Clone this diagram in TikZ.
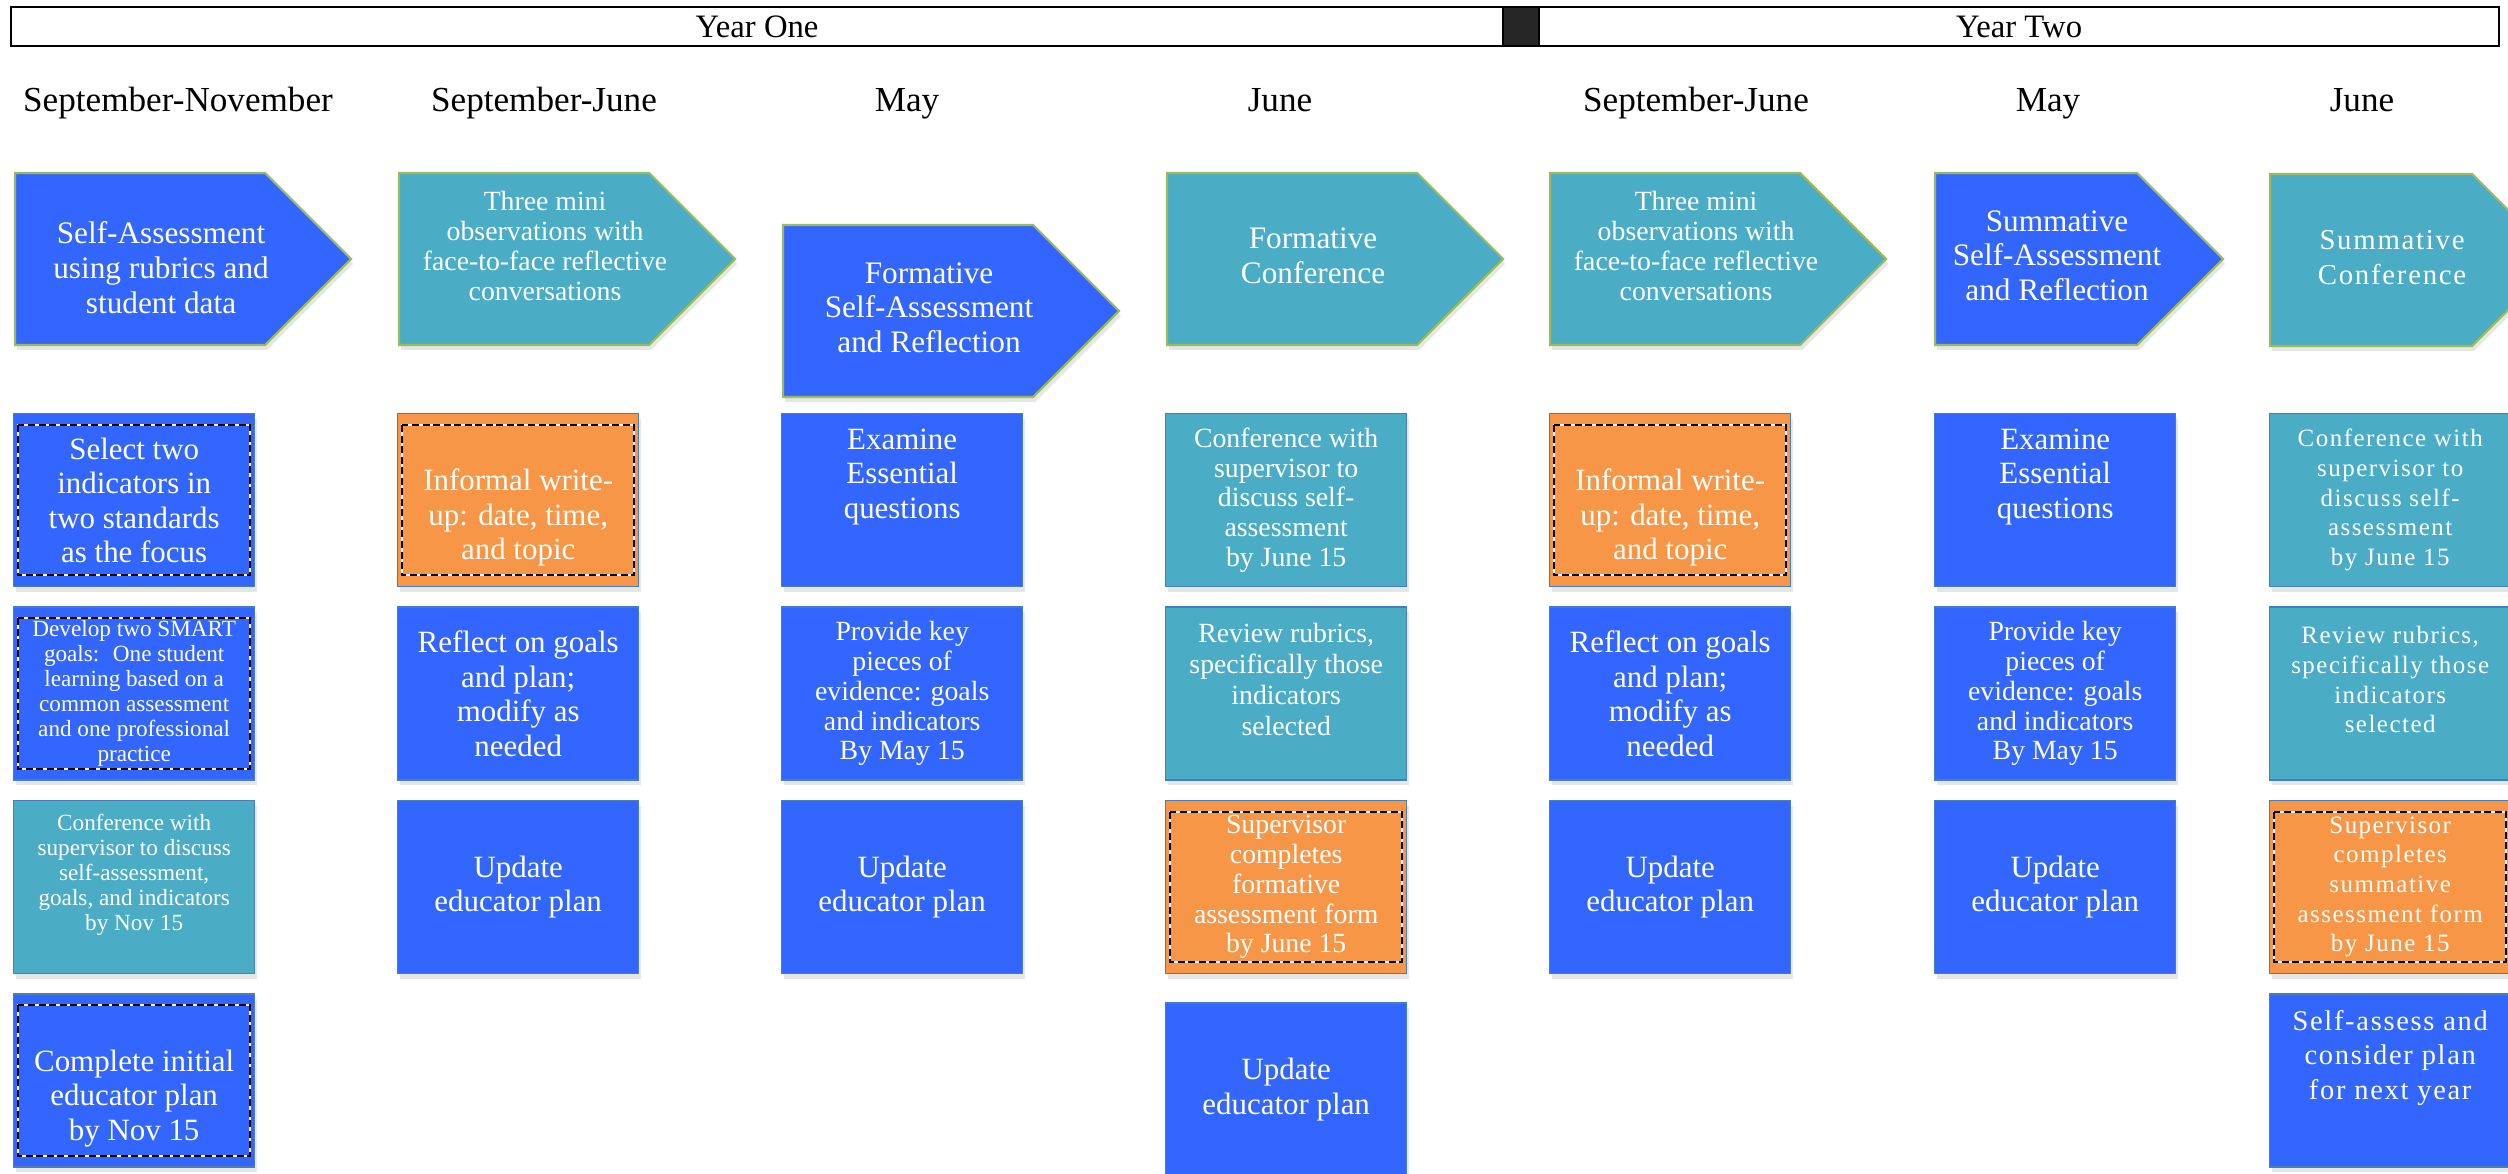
\documentclass[tikz,border=0pt]{standalone}
\usepackage{fontspec}
\setmainfont{Liberation Serif}
\newfontfamily\widefont[LetterSpace=6]{Liberation Serif}
\usepackage{xcolor}
\usetikzlibrary{positioning, shapes.symbols, shadows}

\definecolor{cardblue}{HTML}{3366FF}
\definecolor{cardteal}{HTML}{4BACC6}
\definecolor{cardorange}{HTML}{F79646}
\definecolor{cardedge}{HTML}{4A7EBB}
\definecolor{arrowedge}{HTML}{9BBB59}
\definecolor{gapgray}{HTML}{262626}

% text of a stage arrow, centred a little right of the body, no width of its own
\newcommand{\stagelines}[1]{\hspace*{2.1mm}\makebox[0pt]{\begin{tabular}{@{}c@{}}#1\end{tabular}}\hspace*{-2.1mm}}

\begin{document}
\begin{tikzpicture}[
            x=0.1mm, y=-0.1mm,
            % --- Styles for the cards ---
            card/.style={
                draw=cardedge, line width=0.4pt, rectangle, anchor=north west,
                minimum width=24.1mm, minimum height=17.3mm, inner sep=1pt,
                text=white, align=center, font=\fontsize{8.8}{9.8}\selectfont,
                drop shadow={shadow xshift=0.2mm, shadow yshift=-0.5mm, opacity=0.2}
            },
            blue_card/.style={card, fill=cardblue},
            teal_card/.style={card, fill=cardteal},
            orange_card/.style={card, fill=cardorange},
            small_text/.style={font=\fontsize{7.9}{8.5}\selectfont},
            tiny_text/.style={font=\fontsize{6.6}{7.1}\selectfont},
            wide_text/.style={font=\widefont\fontsize{7.1}{8.45}\selectfont},
            % --- Styles for the stage arrows ---
            stage/.style={
                signal, signal to=east, signal pointer angle=90,
                draw=arrowedge, line width=0.6pt, anchor=west,
                minimum width=33.6mm, minimum height=17.2mm, inner sep=1pt,
                text=white, font=\fontsize{8.9}{9.9}\selectfont,
                drop shadow={shadow xshift=0.2mm, shadow yshift=-0.5mm, opacity=0.2}
            },
            blue_stage/.style={stage, fill=cardblue},
            teal_stage/.style={stage, fill=cardteal},
            % --- Styles for the headings ---
            month/.style={anchor=base, font=\fontsize{10}{12}\selectfont},
            year_box/.style={
                draw, line width=0.6pt, anchor=north west, minimum height=3.9mm,
                inner sep=0pt, font=\fontsize{9.3}{11}\selectfont
            },
            dash_frame/.style={line width=0.6pt, dash pattern=on 2pt off 1pt}
        ]

        \useasboundingbox (0,0) rectangle (2508,1174);

        % --- Year bar ---
        \node[year_box, minimum width=149.2mm] (year1) at (10,6) {Year One};
        \node[year_box, fill=gapgray, minimum width=3.6mm] (yeargap) at (1502,6) {};
        \node[year_box, minimum width=96mm] (year2) at (1538,6) {Year Two};

        % --- Month headings ---
        \foreach \mx/\mname [count=\i from 1] in {178/September-November, 544/September-June,
                907/May, 1280/June, 1696/September-June, 2048/May, 2362/June} {
            \node[month] (month\i) at (\mx,112) {\mname};
        }

        % --- Stage arrows ---
        \node[blue_stage] (stage1) at (14,259) {\stagelines{\rule{0pt}{4.9mm}Self-Assessment\\using rubrics and\\student data}};
        \node[teal_stage, small_text] (stage2) at (398,259) {\stagelines{Three mini\\observations with\\face-to-face reflective\\conversations\rule[-2.8mm]{0pt}{0pt}}};
        \node[blue_stage] (stage3) at (782,311) {\stagelines{Formative\\Self-Assessment\\and Reflection}};
        \node[teal_stage] (stage4) at (1166,259) {\stagelines{Formative\\Conference}};
        \node[teal_stage, small_text] (stage5) at (1549,259) {\stagelines{Three mini\\observations with\\face-to-face reflective\\conversations\rule[-2.8mm]{0pt}{0pt}}};
        \node[blue_stage, minimum width=28.8mm] (stage6) at (1934,259) {\stagelines{Summative\\Self-Assessment\\and Reflection}};
        \node[teal_stage, minimum width=28.8mm, font=\widefont\fontsize{8.2}{9.8}\selectfont] (stage7) at (2269,260) {\stagelines{Summative\\Conference}};

        % --- Year one, September-November ---
        \node[blue_card] (c1r1) at (13,413) {Select two\\indicators in\\two standards\\as the focus};
        \node[blue_card, tiny_text, below=1.9mm of c1r1] (c1r2) {Develop two SMART\\goals:~ One student\\learning based on a\\common assessment\\and one professional\\practice};
        \node[teal_card, tiny_text, below=1.9mm of c1r2] (c1r3) {Conference with\\supervisor to discuss\\self-assessment,\\goals, and indicators\\by Nov 15\rule[-3mm]{0pt}{0pt}};
        \node[blue_card, below=1.9mm of c1r3] (c1r4) {\rule{0pt}{5.7mm}Complete initial\\educator plan\\by Nov 15};

        % --- Year one, September-June ---
        \node[orange_card] (c2r1) at (397,413) {\rule{0pt}{5.7mm}Informal write-\\up: date, time,\\and topic};
        \node[blue_card, below=1.9mm of c2r1] (c2r2) {Reflect on goals\\and plan;\\modify as\\needed};
        \node[blue_card, below=1.9mm of c2r2] (c2r3) {Update\\educator plan};

        % --- Year one, May ---
        \node[blue_card] (c3r1) at (781,413) {Examine\\Essential\\questions\rule[-5.3mm]{0pt}{0pt}};
        \node[blue_card, small_text, below=1.9mm of c3r1] (c3r2) {Provide key\\pieces of\\evidence: goals\\and indicators\\By May 15};
        \node[blue_card, below=1.9mm of c3r2] (c3r3) {Update\\educator plan};

        % --- Year one, June ---
        \node[teal_card, small_text] (c4r1) at (1165,413) {Conference with\\supervisor to\\discuss self-\\assessment\\by June 15};
        \node[teal_card, small_text, font=\fontsize{7.9}{8.8}\selectfont, below=1.9mm of c4r1] (c4r2) {Review rubrics,\\specifically those\\indicators\\selected\rule[-2.8mm]{0pt}{0pt}};
        \node[orange_card, small_text, below=1.9mm of c4r2] (c4r3) {Supervisor\\completes\\formative\\assessment form\\by June 15};
        \node[blue_card, below=2.8mm of c4r3] (c4r4) {Update\\educator plan};

        % --- Year two, September-June ---
        \node[orange_card] (c5r1) at (1549,413) {\rule{0pt}{5.7mm}Informal write-\\up: date, time,\\and topic};
        \node[blue_card, below=1.9mm of c5r1] (c5r2) {Reflect on goals\\and plan;\\modify as\\needed};
        \node[blue_card, below=1.9mm of c5r2] (c5r3) {Update\\educator plan};

        % --- Year two, May ---
        \node[blue_card] (c6r1) at (1934,413) {Examine\\Essential\\questions\rule[-5.3mm]{0pt}{0pt}};
        \node[blue_card, small_text, below=1.9mm of c6r1] (c6r2) {Provide key\\pieces of\\evidence: goals\\and indicators\\By May 15};
        \node[blue_card, below=1.9mm of c6r2] (c6r3) {Update\\educator plan};

        % --- Year two, June ---
        \node[teal_card, wide_text] (c7r1) at (2269,413) {Conference with\\supervisor to\\discuss self-\\assessment\\by June 15};
        \node[teal_card, wide_text, below=1.9mm of c7r1] (c7r2) {Review rubrics,\\specifically those\\indicators\\selected\rule[-2.8mm]{0pt}{0pt}};
        \node[orange_card, wide_text, below=1.9mm of c7r2] (c7r3) {Supervisor\\completes\\summative\\assessment form\\by June 15};
        \node[blue_card, font=\widefont\fontsize{8.1}{9.7}\selectfont, below=1.9mm of c7r3] (c7r4) {Self-assess and\\consider plan\\for next year\rule[-5.1mm]{0pt}{0pt}};

        % --- Dashed frames on the key cards ---
        \foreach \card in {c1r1, c1r2, c1r4, c2r1, c4r3, c5r1, c7r3} {
            \draw[dash_frame, white, solid] ([xshift=0.5mm, yshift=-1.2mm]\card.north west) rectangle ([xshift=-0.5mm, yshift=1.2mm]\card.south east);
            \draw[dash_frame, black] ([xshift=0.5mm, yshift=-1.2mm]\card.north west) rectangle ([xshift=-0.5mm, yshift=1.2mm]\card.south east);
        }

        \end{tikzpicture}
\end{document}
